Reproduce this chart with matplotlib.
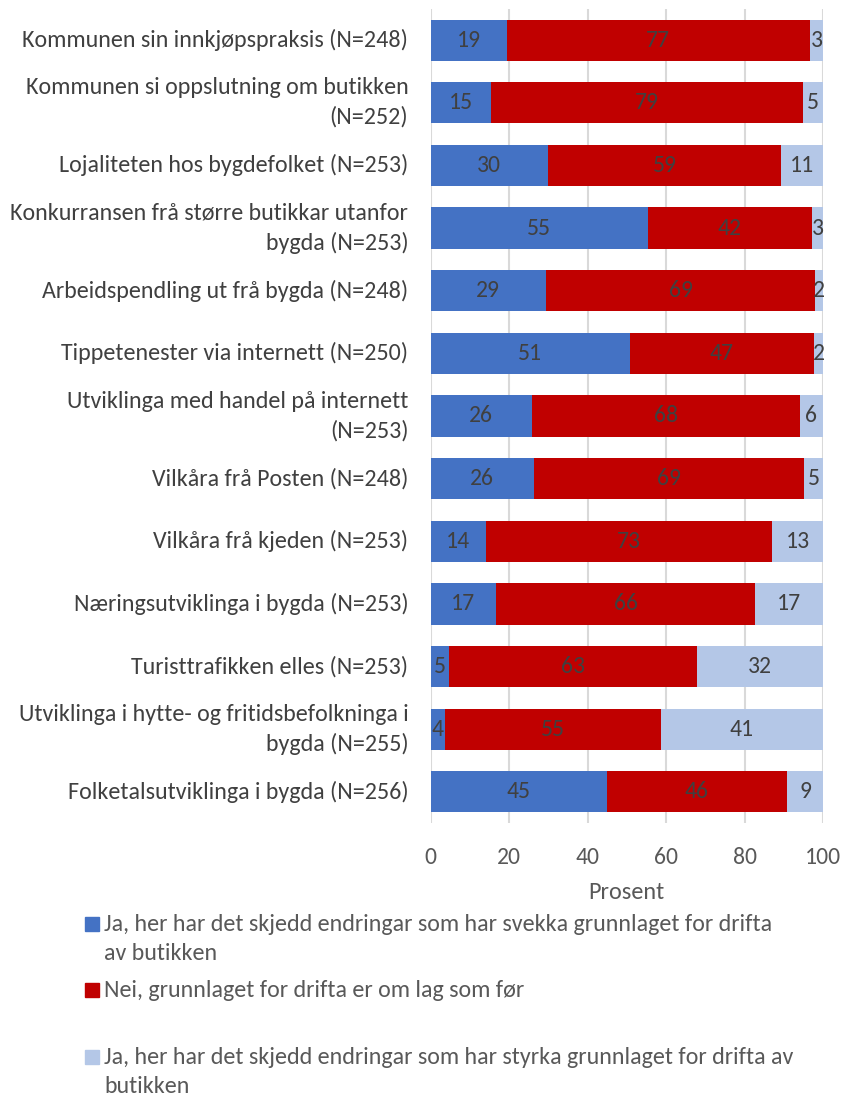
import matplotlib
matplotlib.use("Agg")
import matplotlib.pyplot as plt
from matplotlib.patches import Rectangle

categories = [
    "Kommunen sin innkjøpspraksis (N=248)",
    "Kommunen si oppslutning om butikken\n(N=252)",
    "Lojaliteten hos bygdefolket (N=253)",
    "Konkurransen frå større butikkar utanfor\nbygda (N=253)",
    "Arbeidspendling ut frå bygda (N=248)",
    "Tippetenester via internett (N=250)",
    "Utviklinga med handel på internett\n(N=253)",
    "Vilkåra frå Posten (N=248)",
    "Vilkåra frå kjeden (N=253)",
    "Næringsutviklinga i bygda (N=253)",
    "Turisttrafikken elles (N=253)",
    "Utviklinga i hytte- og fritidsbefolkninga i\nbygda (N=255)",
    "Folketalsutviklinga i bygda (N=256)",
]
svekka = [19.4, 15.4, 29.9, 55.4, 29.4, 50.8, 25.9, 26.4, 14.1, 16.7, 4.7, 3.6, 45.0]
uendra = [77.3, 79.4, 59.4, 41.8, 68.6, 46.9, 68.2, 68.8, 72.9, 66.0, 63.2, 55.0, 45.8]
styrka = [3.3, 5.2, 10.7, 2.8, 2.0, 2.3, 5.9, 4.8, 13.0, 17.3, 32.1, 41.4, 9.2]
series_names = [
    "Ja, her har det skjedd endringar som har svekka grunnlaget for drifta\nav butikken",
    "Nei, grunnlaget for drifta er om lag som før",
    "Ja, her har det skjedd endringar som har styrka grunnlaget for drifta av\nbutikken",
]
colors = ["#4472C4", "#C00000", "#B4C7E7"]
xticks = [0, 20, 40, 60, 80, 100]

plt.rcParams["font.family"] = ["Carlito", "DejaVu Sans"]

W, H = 844, 1097
fig = plt.figure(figsize=(W / 100, H / 100), dpi=100)
ax = fig.add_axes([430.5 / W, 1 - 823.3 / H, 392.5 / W, (823.3 - 8.7) / H])

ypos = list(range(len(categories)))
left = [0.0] * len(categories)
for vals, col in zip([svekka, uendra, styrka], colors):
    bars = ax.barh(ypos, vals, left=left, height=0.655, color=col, zorder=3)
    for b, v in zip(bars, vals):
        ax.text(b.get_x() + b.get_width() / 2, b.get_y() + b.get_height() / 2,
                f"{v:.0f}", ha="center", va="center", fontsize=17,
                color="#404040", zorder=4)
    left = [l + v for l, v in zip(left, vals)]

ax.set_ylim(len(categories) - 0.5, -0.5)
ax.set_xlim(0, 100)
ax.set_xticks(xticks)
ax.set_yticks(ypos)
ax.set_yticklabels(categories, fontsize=17.3, color="#404040", linespacing=1.45)
for lab in ax.get_yticklabels():
    lab.set_verticalalignment("center")
ax.tick_params(axis="y", length=0, pad=16)
ax.tick_params(axis="x", length=0, pad=17, labelsize=17, labelcolor="#595959")
ax.grid(axis="x", color="#D9D9D9", linewidth=1.5, zorder=0)
for s in ax.spines.values():
    s.set_visible(False)
ax.set_xlabel("Prosent", fontsize=17.5, color="#595959", labelpad=10)

# legend
leg_y = [924, 990, 1057]
for name, col, y in zip(series_names, colors, leg_y):
    fig.patches.append(Rectangle((85 / W, 1 - (y + 7) / H), 14 / W, 14 / H,
                                 transform=fig.transFigure, color=col))
    fig.text(104 / W, 1 - (y - 10) / H, name, ha="left", va="top",
             fontsize=17.3, color="#595959", linespacing=1.47)

fig.savefig("out.png", dpi=100)
